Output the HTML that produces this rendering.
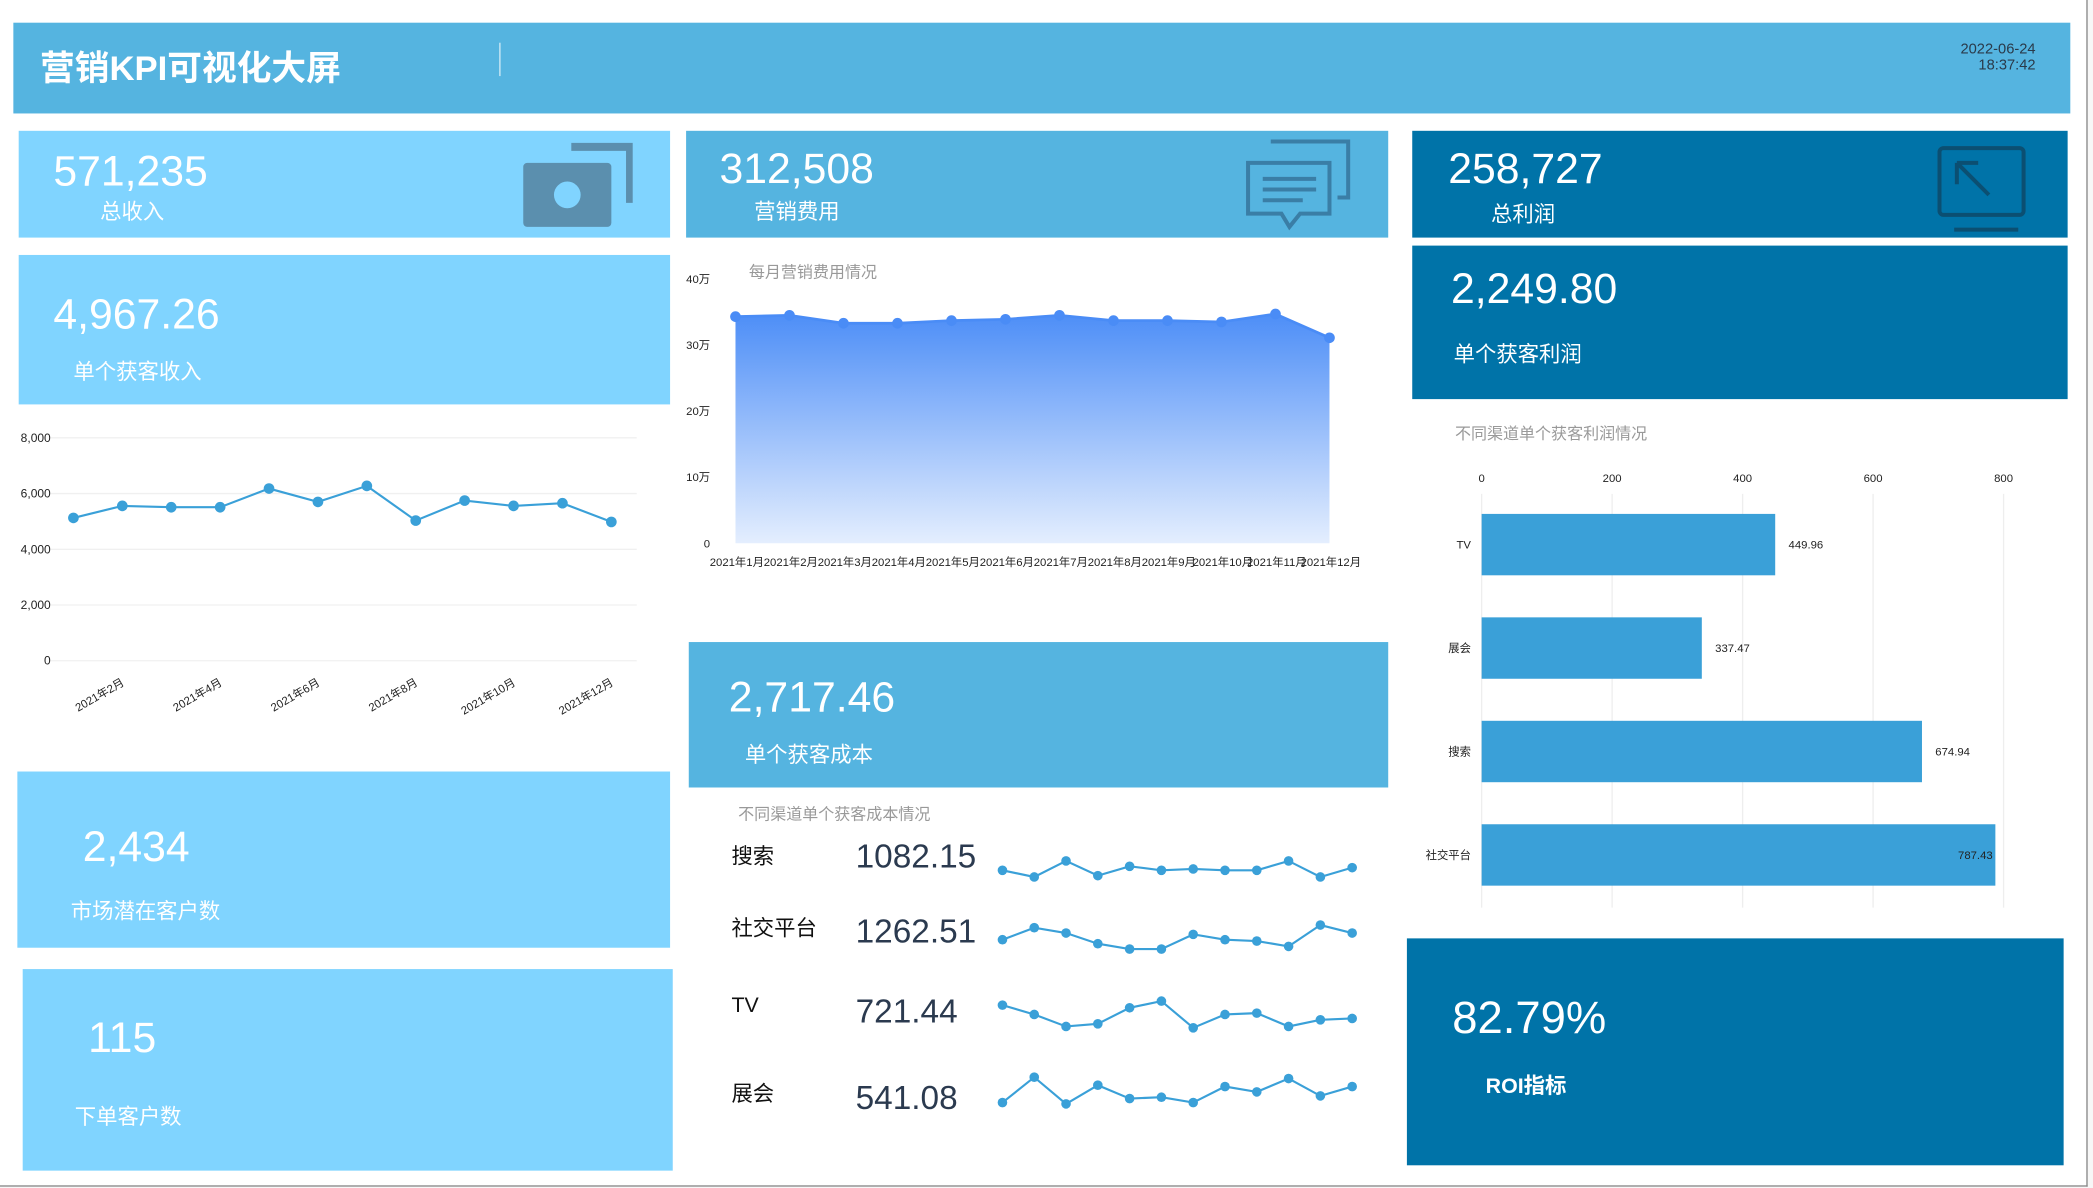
<!DOCTYPE html>
<html><head><meta charset="utf-8">
<style>
html,body{margin:0;padding:0;width:2093px;height:1188px;overflow:hidden;background:#f7f7f7;}
#root{position:absolute;left:0;top:0;width:1568px;height:890px;transform:scale(1.33482);transform-origin:0 0;font-family:"Liberation Sans","Noto Sans CJK SC",sans-serif;background:#f7f7f7;}
.abs{position:absolute;}
.card{position:absolute;color:#fff;}
.big{position:absolute;font-size:32px;font-weight:300;white-space:nowrap;line-height:1;}
.lbl{position:absolute;font-size:16px;white-space:nowrap;line-height:1;}
.white{position:absolute;background:#fff;}
svg text{font-family:"Liberation Sans","Noto Sans CJK SC",sans-serif;}
</style></head><body>
<div id="root">
<div class="abs" style="left:0;top:0;width:1563px;height:888px;border-right:1px solid #888;border-bottom:1px solid #888;background:#fff"></div>
<div class="abs" style="left:10px;top:17px;width:1541px;height:68px;background:#55b4e0"></div>
<div class="abs" style="left:30px;top:31px;font-size:26px;font-weight:bold;color:#fff;white-space:nowrap">营销KPI可视化大屏</div>
<div class="abs" style="left:374px;top:32px;width:1px;height:25px;background:#cfe9f6"></div>
<div class="abs" style="left:1425px;top:31px;width:100px;text-align:right;font-size:11px;line-height:12px;color:#2a3a4a">2022-06-24<br>18:37:42</div>

<!-- left column -->
<div class="card" style="left:14px;top:98px;width:488px;height:80px;background:#80d4ff">
 <div class="big" style="left:26px;top:14px">571,235</div>
 <div class="lbl" style="left:61px;top:54px">总收入</div>
 <svg class="abs" style="left:376px;top:8px" width="84" height="66"><rect x="2" y="16" width="66" height="48" rx="3" fill="#5b8fae"/><path d="M38 4 H82 V46" stroke="#5b8fae" stroke-width="6" fill="none"/><circle cx="35" cy="40" r="10" fill="#80d4ff"/></svg>
</div>
<div class="card" style="left:14px;top:191px;width:488px;height:112px;background:#80d4ff">
 <div class="big" style="left:26px;top:28px">4,967.26</div>
 <div class="lbl" style="left:41px;top:81px">单个获客收入</div>
</div>
<div class="white" style="left:14px;top:303px;width:488px;height:262px"></div>
<svg class="abs" id="lineChart" style="left:0;top:0" width="520" height="570"></svg>
<div class="card" style="left:13px;top:578px;width:489px;height:132px;background:#80d4ff">
 <div class="big" style="left:49px;top:40px">2,434</div>
 <div class="lbl" style="left:40px;top:98px">市场潜在客户数</div>
</div>
<div class="card" style="left:17px;top:726px;width:487px;height:151px;background:#80d4ff">
 <div class="big" style="left:49px;top:35px">115</div>
 <div class="lbl" style="left:39px;top:104px">下单客户数</div>
</div>

<!-- middle column -->
<div class="card" style="left:514px;top:98px;width:526px;height:80px;background:#55b4e0">
 <div class="big" style="left:25px;top:12px">312,508</div>
 <div class="lbl" style="left:51px;top:54px">营销费用</div>
 <svg class="abs" style="left:418px;top:6px" width="82" height="70"><path d="M20 2 H78 V44 H70" stroke="#3a7ea6" stroke-width="3" fill="none"/><path d="M3 18 H64 V56 H42 L34 66 L28 56 H3 Z" stroke="#3a7ea6" stroke-width="3" fill="none"/><path d="M14 30 H54 M14 38 H54 M14 46 H44" stroke="#3a7ea6" stroke-width="3"/></svg>
</div>
<div class="white" style="left:514px;top:180px;width:526px;height:278px"></div>
<div class="abs" style="left:561px;top:195px;font-size:12px;color:#999">每月营销费用情况</div>
<svg class="abs" id="areaChart" style="left:0;top:0" width="1060" height="470"></svg>
<div class="card" style="left:516px;top:481px;width:524px;height:109px;background:#55b4e0">
 <div class="big" style="left:30px;top:25px">2,717.46</div>
 <div class="lbl" style="left:42px;top:78px">单个获客成本</div>
</div>
<div class="white" style="left:516px;top:590px;width:524px;height:287px"></div>
<div class="abs" style="left:553px;top:601px;font-size:12px;color:#999">不同渠道单个获客成本情况</div>
<svg class="abs" id="sparkChart" style="left:0;top:0" width="1060" height="880"></svg>

<!-- right column -->
<div class="card" style="left:1058px;top:98px;width:491px;height:80px;background:#0073a8">
 <div class="big" style="left:27px;top:12px">258,727</div>
 <div class="lbl" style="left:59px;top:56px">总利润</div>
 <svg class="abs" style="left:392px;top:10px" width="70" height="68"><rect x="3" y="3" width="63" height="50" rx="3" stroke="#0b4f72" stroke-width="3" fill="none"/><path d="M14 64 H62" stroke="#0b4f72" stroke-width="3"/><path d="M16 14 L40 38 M16 14 V30 M16 14 H32" stroke="#0b4f72" stroke-width="3" fill="none"/></svg>
</div>
<div class="card" style="left:1058px;top:184px;width:491px;height:115px;background:#0073a8">
 <div class="big" style="left:29px;top:16px">2,249.80</div>
 <div class="lbl" style="left:31px;top:75px">单个获客利润</div>
</div>
<div class="white" style="left:1058px;top:300px;width:491px;height:390px"></div>
<div class="abs" style="left:1090px;top:316px;font-size:12px;color:#999">不同渠道单个获客利润情况</div>
<svg class="abs" id="barChart" style="left:0;top:0" width="1560" height="700"></svg>
<div class="card" style="left:1054px;top:703px;width:492px;height:170px;background:#0073a8">
 <div class="big" style="left:34px;top:43px;font-size:34px">82.79%</div>
 <div class="lbl" style="left:59px;top:104px;font-weight:bold">ROI指标</div>
</div>
</div>
<script>
const NS='http://www.w3.org/2000/svg';
function mk(p,t,a){const e=document.createElementNS(NS,t);for(const k in a)e.setAttribute(k,a[k]);p.appendChild(e);return e;}

// revenue line chart data
const revMonths=['2021年1月','2021年2月','2021年3月','2021年4月','2021年5月','2021年6月','2021年7月','2021年8月','2021年9月','2021年10月','2021年11月','2021年12月'];
const revValues=[5126,5557,5509,5509,6180,5700,6275,5030,5749,5557,5653,4982];
const revTicks=[0,2000,4000,6000,8000];
const revTickLabels=['0','2,000','4,000','6,000','8,000'];

// cost area data (万)
const costMonths=['2021年1月','2021年2月','2021年3月','2021年4月','2021年5月','2021年6月','2021年7月','2021年8月','2021年9月','2021年10月','2021年11月','2021年12月'];
const costValues=[34.3,34.5,33.3,33.3,33.7,33.9,34.5,33.7,33.7,33.5,34.7,31.1];
const costTicks=[0,10,20,30,40];
const costTickLabels=['0','10万','20万','30万','40万'];

// channel cost sparklines
const chNames=['搜索','社交平台','TV','展会'];
const chValues=['1082.15','1262.51','721.44','541.08'];
const sparkSearch=[8,3,15,4,11,8,9,8,8,15,3,10];
const sparkSocial=[7,16,12,4,0,0,11,7,6,2,18,12];
const sparkTV=[17,10,1,3,15,20,0,10,11,1,6,7];
const sparkExpo=[1,20,0,14,4,5,1,13,9,19,6,13];

// channel profit bars
const barCats=['TV','展会','搜索','社交平台'];
const barValues=[449.96,337.47,674.94,787.43];
const barTicks=[0,200,400,600,800];

// ---- line chart
(function(){
 const s=document.getElementById('lineChart');
 const x0=55,x1=458,yB=495,yT=328;
 const xs=i=>x0+(x1-x0)*i/(revValues.length-1);
 const ys=v=>yB-(yB-yT)*v/8000;
 revTicks.forEach((t,i)=>{
  const g=mk(s,'line',{x1:38,x2:477,y1:ys(t),y2:ys(t),stroke:'#f0f0f0'});
  
  
  const tx=mk(s,'text',{x:38,y:ys(t)+3,'text-anchor':'end','font-size':9,fill:'#222'});tx.textContent=revTickLabels[i];
  
  
 });
 const pts=revValues.map((v,i)=>xs(i)+','+ys(v)).join(' ');
 const pl=mk(s,'polyline',{points:pts,fill:'none',stroke:'#3aa0d8','stroke-width':1.6});
 
 
 revValues.forEach((v,i)=>{
  const c=mk(s,'circle',{cx:xs(i),cy:ys(v),r:4,fill:'#3aa0d8'});
  
  
  if(i%2===1){
   const tx=mk(s,'text',{x:xs(i)+2,y:513,'text-anchor':'end','font-size':8.5,fill:'#222',transform:`rotate(-30 ${xs(i)+2} 513)`});tx.textContent=revMonths[i];
   
   
  }
 });
})();

// ---- area chart
(function(){
 const s=document.getElementById('areaChart');
 const x0=551,x1=996,yB=407,yT=209;
 const xs=i=>x0+(x1-x0)*i/(costValues.length-1);
 const ys=v=>yB-(yB-yT)*v/40;
 const d=mk(s,'defs',{});const lg=mk(d,'linearGradient',{id:'ag',x1:0,y1:0,x2:0,y2:1});
 mk(lg,'stop',{offset:'0','stop-color':'#4d8ef7'});mk(lg,'stop',{offset:'1','stop-color':'#e4eefe'});
 costTicks.forEach((t,i)=>{
  const tx=mk(s,'text',{x:532,y:ys(t)+3,'text-anchor':'end','font-size':8.5,fill:'#222'});tx.textContent=costTickLabels[i];
  
  
 });
 let p='M'+xs(0)+','+yB;costValues.forEach((v,i)=>p+=' L'+xs(i)+','+ys(v));p+=' L'+xs(costValues.length-1)+','+yB+' Z';
 const a=mk(s,'path',{d:p,fill:'url(#ag)'});
 
 
 const pl=mk(s,'polyline',{points:costValues.map((v,i)=>xs(i)+','+ys(v)).join(' '),fill:'none',stroke:'#4a8cf6','stroke-width':2});
 
 
 costValues.forEach((v,i)=>{
  const c=mk(s,'circle',{cx:xs(i),cy:ys(v),r:4,fill:'#4a8cf6'});
  
  
  const tx=mk(s,'text',{x:xs(i)+1,y:424,'text-anchor':'middle','font-size':8.5,fill:'#222'});tx.textContent=costMonths[i];
  
  
 });
})();

// ---- sparklines
(function(){
 const s=document.getElementById('sparkChart');
 const series=[sparkSearch,sparkSocial,sparkTV,sparkExpo];
 const bases=[660,711,770,827];
 const nameY=[647,701,758,825];
 const valY=[650,706,766,831];
 const x0=751,x1=1013;
 series.forEach((arr,r)=>{
  const n=mk(s,'text',{x:548,y:nameY[r],'font-size':16,fill:'#111'});n.textContent=chNames[r];
  
  
  const v=mk(s,'text',{x:641,y:valY[r],'font-size':25,fill:'#2b3a4f'});v.textContent=chValues[r];
  
  
  const xs=i=>x0+(x1-x0)*i/(arr.length-1);
  const ys=val=>bases[r]-val;
  const pl=mk(s,'polyline',{points:arr.map((q,i)=>xs(i)+','+ys(q)).join(' '),fill:'none',stroke:'#3aa0d8','stroke-width':1.6});
  
  
  arr.forEach((q,i)=>{
   const c=mk(s,'circle',{cx:xs(i),cy:ys(q),r:3.6,fill:'#3aa0d8'});
   
   
  });
 });
})();

// ---- bar chart
(function(){
 const s=document.getElementById('barChart');
 const x0=1110,x1=1501,yTop=370,yBot=680;
 const xs=v=>x0+(x1-x0)*v/800;
 barTicks.forEach(t=>{
  const g=mk(s,'line',{x1:xs(t),x2:xs(t),y1:370,y2:680,stroke:'#eeeeee'});
  
  
  const tx=mk(s,'text',{x:xs(t),y:361,'text-anchor':'middle','font-size':8.5,fill:'#222'});tx.textContent=t;
  
  
 });
 const band=77.5,bh=46,start=385;
 barValues.forEach((v,i)=>{
  const y=start+band*i;
  const b=mk(s,'rect',{x:x0,y:y,width:xs(v)-x0,height:bh,fill:'#3aa0d8'});
  
  
  const c=mk(s,'text',{x:x0-8,y:y+bh/2+3,'text-anchor':'end','font-size':8.5,fill:'#222'});c.textContent=barCats[i];
  
  
  const inside=xs(v)+40>x1;
  const l=mk(s,'text',{x:inside?xs(v)-2:xs(v)+10,y:y+bh/2+3,'text-anchor':inside?'end':'start','font-size':8.5,fill:'#222'});l.textContent=v.toFixed(2);
  
  
 });
})();
</script>
</body></html>
